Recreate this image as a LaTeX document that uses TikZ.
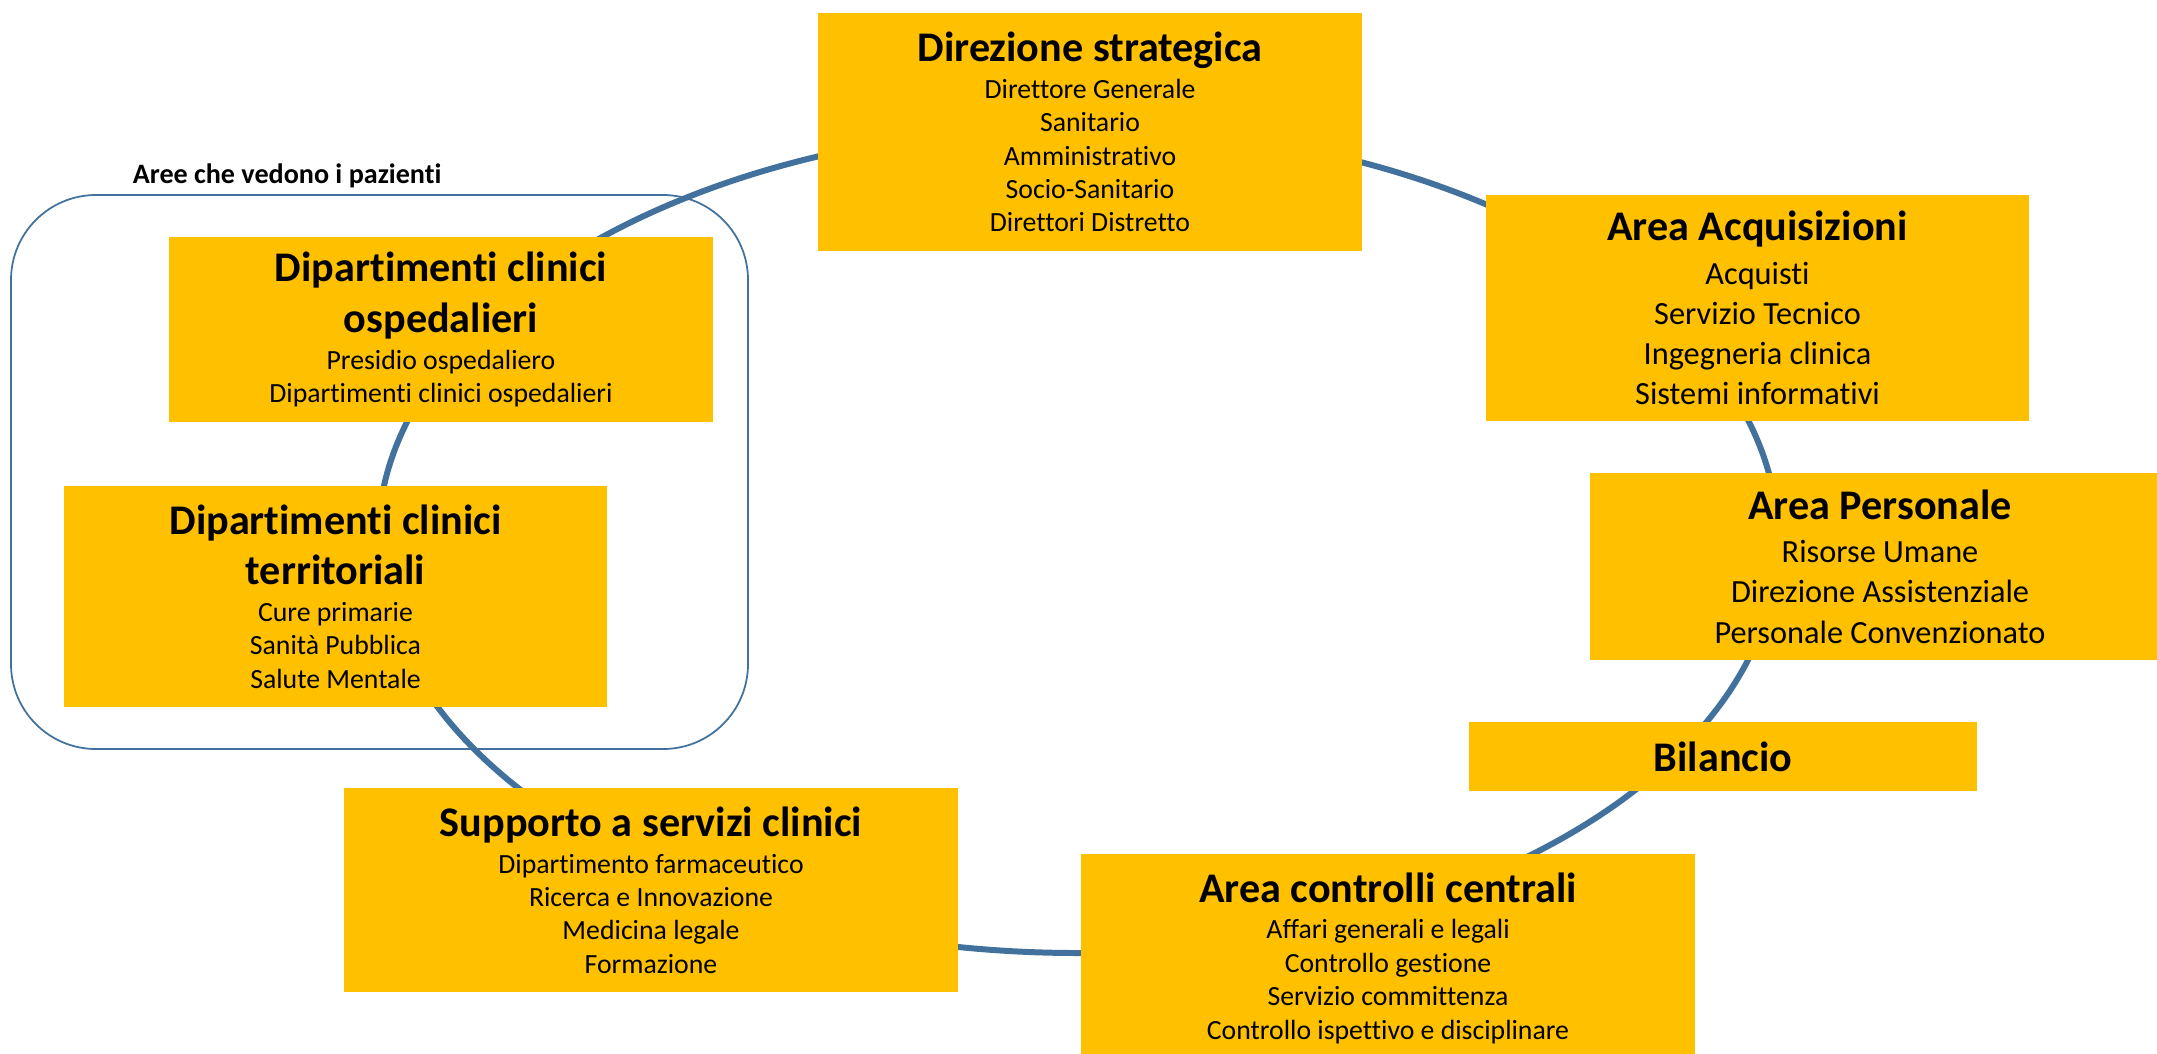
\documentclass[tikz,border=0pt]{standalone}
\usepackage{fontspec}
\setmainfont{Carlito}[Ligatures=NoCommon]
\usetikzlibrary{positioning}

\definecolor{boxgold}{HTML}{FFC000}
\definecolor{ringblue}{HTML}{41719C}

\newcommand{\titlefont}{\fontsize{12}{14.4}\selectfont\bfseries}
\newcommand{\smallfont}{\fontsize{7.9}{9.5}\selectfont}
\newcommand{\largefont}{\fontsize{9.2}{11.4}\selectfont}
\newcommand{\boxhead}[1]{{\titlefont #1\par}\vspace{1pt}}

\tikzset{
    area/.style={fill=boxgold, inner sep=0pt, align=flush center},
    ring/.style={draw=ringblue, line width=1.7pt},
    group/.style={draw=ringblue, line width=0.5pt, rounded corners=0.85cm, inner sep=0pt},
    grouplabel/.style={inner sep=0pt, font=\fontsize{8}{9.6}\selectfont\bfseries}
}

\begin{document}
\begin{tikzpicture}
    \useasboundingbox (0,0) rectangle (21.57,-10.53);

    % ring behind the areas
    \coordinate (hub) at (10.78,-5.40);
    \draw [ring] (hub) ellipse [x radius=7, y radius=4.13];

    % areas that see the patients
    \node [group, minimum width=7.37cm, minimum height=5.54cm] (patients) at (3.795,-4.72) {};
    \node [grouplabel, above right=0.06cm and 1.22cm of patients.north west] (patientslbl) {Aree che vedono i pazienti};

    \node [area, text width=5.44cm, minimum height=2.38cm] (dir) at (10.90,-1.32)
        {\boxhead{Direzione strategica}\smallfont Direttore Generale\\ Sanitario\\ Amministrativo\\ Socio-Sanitario\\ Direttori Distretto\par};

    \node [area, text width=5.43cm, minimum height=2.26cm] (acq) at (17.575,-3.08)
        {\boxhead{Area Acquisizioni}\largefont Acquisti\\ Servizio Tecnico\\ Ingegneria clinica\\ Sistemi informativi\par};

    \node [area, text width=5.80cm, minimum height=1.87cm] (pers) at (18.80,-5.665)
        {\boxhead{Area Personale}\largefont Risorse Umane\\ Direzione Assistenziale\\ Personale Convenzionato\par};

    \node [area, text width=5.08cm, minimum height=0.69cm] (bil) at (17.23,-7.565)
        {\titlefont Bilancio\par};

    \node [area, text width=6.14cm, minimum height=2.08cm] (ctrl) at (13.88,-9.58)
        {\boxhead{Area controlli centrali}\smallfont Affari generali e legali\\ Controllo gestione\\ Servizio committenza\\ Controllo ispettivo e disciplinare\par};

    \node [area, text width=6.14cm, minimum height=2.04cm] (sup) at (6.51,-8.90)
        {\boxhead{Supporto a servizi clinici}\smallfont Dipartimento farmaceutico\\ Ricerca e Innovazione\\ Medicina legale\\ Formazione\par};

    \node [area, text width=5.43cm, minimum height=2.21cm] (terr) at (3.355,-5.965)
        {\boxhead{Dipartimenti clinici\\ territoriali}\smallfont Cure primarie\\ Sanità Pubblica\\ Salute Mentale\par};

    \node [area, text width=5.44cm, minimum height=1.85cm] (osp) at (4.41,-3.295)
        {\boxhead{Dipartimenti clinici\\ ospedalieri}\smallfont Presidio ospedaliero\\ Dipartimenti clinici ospedalieri\par};
\end{tikzpicture}
\end{document}
